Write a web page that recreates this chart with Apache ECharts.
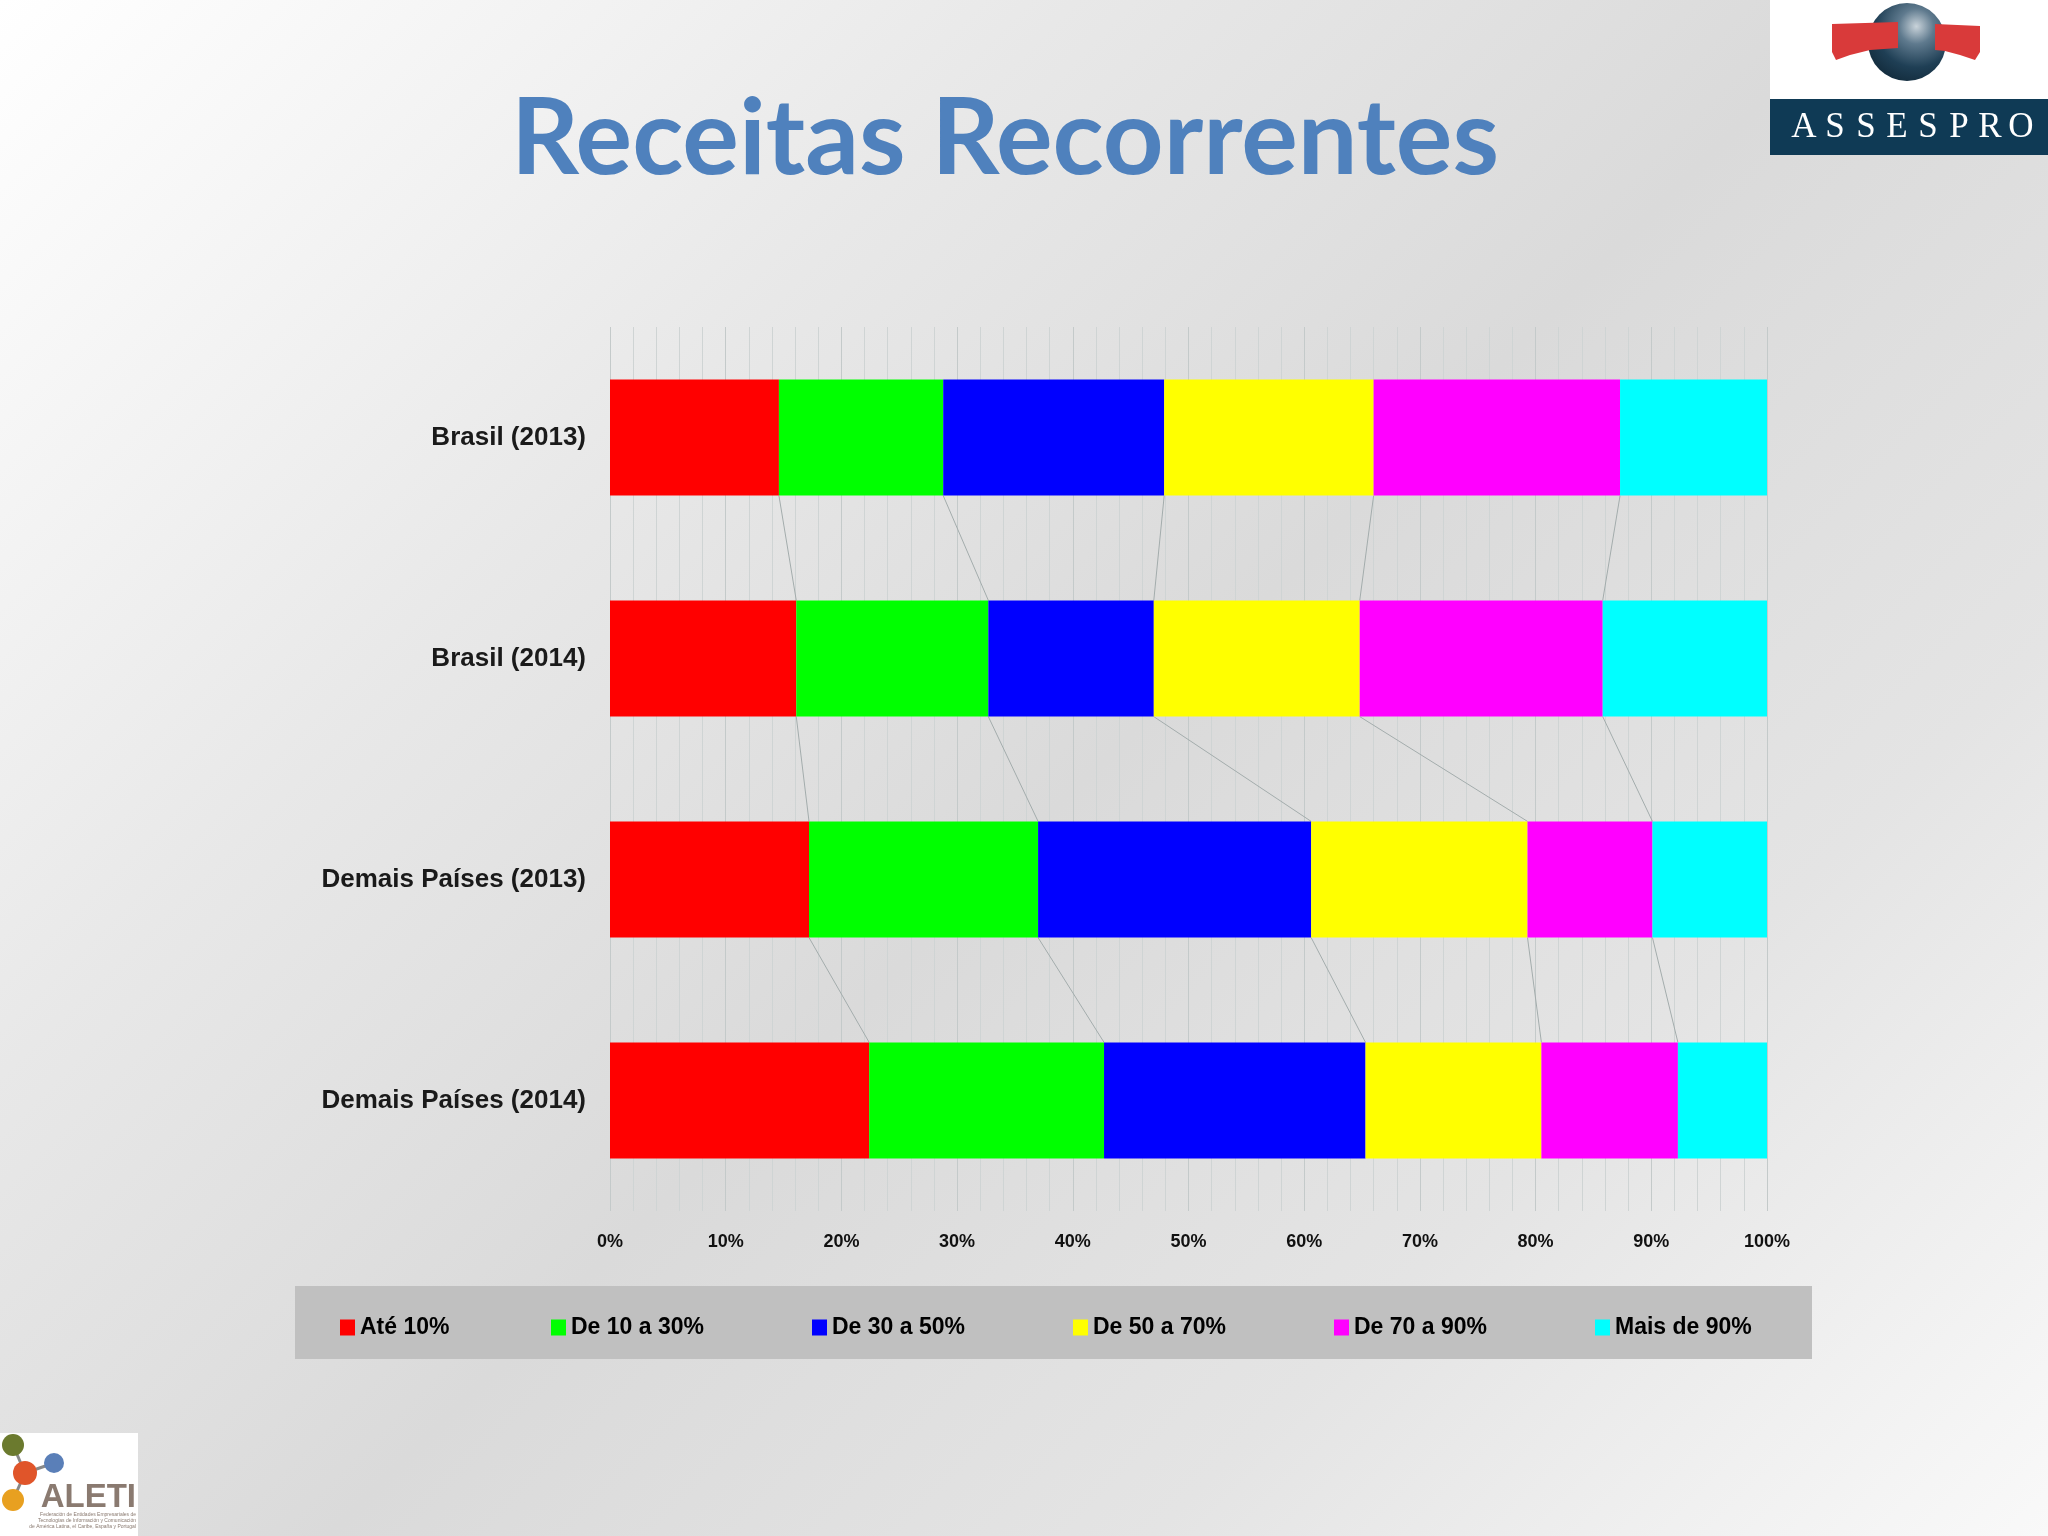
<!DOCTYPE html>
<html><head><meta charset="utf-8">
<script src="https://cdn.jsdelivr.net/npm/echarts@6/dist/echarts.min.js"></script>
<style>
html,body{margin:0;padding:0;}
#c{width:2048px;height:1536px;background:linear-gradient(135deg,#ffffff 0%,#e8e8e8 30%,#dadada 52%,#e4e4e4 75%,#f9f9f9 100%);}
</style></head>
<body><div id="c"></div>
<script>
const categories = ['Brasil (2013)', 'Brasil (2014)', 'Demais Países (2013)', 'Demais Países (2014)'];
const seriesNames = ['Até 10%', 'De 10 a 30%', 'De 30 a 50%', 'De 50 a 70%', 'De 70 a 90%', 'Mais de 90%'];
const ate10   = [14.6, 16.1, 17.2, 22.4];
const de10a30 = [14.2, 16.6, 19.8, 20.3];
const de30a50 = [19.1, 14.3, 23.6, 22.6];
const de50a70 = [18.1, 17.8, 18.7, 15.2];
const de70a90 = [21.3, 21.0, 10.8, 11.8];
const mais90  = [12.7, 14.2, 9.9, 7.7];
const xTicks = [0, 10, 20, 30, 40, 50, 60, 70, 80, 90, 100];

const seriesValues = [ate10, de10a30, de30a50, de50a70, de70a90, mais90];
const colors = ['#ff0000', '#00ff00', '#0000ff', '#ffff00', '#ff00ff', '#00ffff'];
const barFrac = 0.526;
const legendLeft = [340, 551, 812, 1073, 1334, 1595];

function cumAt(cat, k) {
  let s = 0;
  for (let j = 0; j <= k; j++) s += seriesValues[j][cat];
  return s;
}

const chart = echarts.init(document.getElementById('c'), null, {renderer: 'canvas'});

const barSeries = seriesNames.map((n, i) => ({
  name: n, type: 'bar', stack: 'total', barWidth: (barFrac * 100) + '%',
  data: seriesValues[i], itemStyle: {color: colors[i]}, z: 3,
  emphasis: {disabled: true}
}));

const linkSeries = {
  type: 'custom', silent: true, z: 2,
  encode: {x: 0, y: 1},
  data: categories.slice(0, -1).map((c, i) => [0, i]),
  renderItem: function (params, api) {
    const i = api.value(1);
    const half = api.size([0, 1])[1] * barFrac / 2;
    const children = [];
    for (let k = 0; k < seriesNames.length - 1; k++) {
      const a = api.coord([cumAt(i, k), i]);
      const b = api.coord([cumAt(i + 1, k), i + 1]);
      children.push({
        type: 'line',
        shape: {x1: a[0], y1: a[1] + half, x2: b[0], y2: b[1] - half},
        style: {stroke: '#a3acac', lineWidth: 1}
      });
    }
    return {type: 'group', children: children};
  }
};

const lg = seriesNames.map((n, i) => ({
  data: [n], left: legendLeft[i], top: 1316, z: 10, padding: 0,
  icon: 'rect', itemWidth: 15, itemHeight: 16, itemGap: 0,
  selectedMode: false,
  textStyle: {fontFamily: 'Liberation Sans', fontWeight: 'bold', fontSize: 23, color: '#000'}
}));

const globeGrad = new echarts.graphic.RadialGradient(0.62, 0.3, 0.75, [
  {offset: 0, color: '#c9d3da'}, {offset: 0.3, color: '#5f7a8e'}, {offset: 0.7, color: '#1f3f55'}, {offset: 1, color: '#132c3d'}
]);

chart.setOption({
  backgroundColor: 'transparent',
  animation: false,
  grid: {left: 610, right: 281, top: 327, bottom: 325},
  xAxis: {
    type: 'value', min: xTicks[0], max: xTicks[xTicks.length - 1], interval: xTicks[1] - xTicks[0],
    axisLine: {show: false}, axisTick: {show: false},
    axisLabel: {formatter: '{value}%', fontFamily: 'Liberation Sans', fontWeight: 'bold', fontSize: 18, color: '#111', margin: 22},
    splitLine: {show: true, lineStyle: {color: '#c4caca', width: 1}},
    minorTick: {show: false, splitNumber: 5},
    minorSplitLine: {show: true, lineStyle: {color: '#cfd4d4', width: 1}}
  },
  yAxis: {
    type: 'category', data: categories, inverse: true,
    axisLine: {show: false}, axisTick: {show: false},
    axisLabel: {fontFamily: 'Liberation Sans', fontWeight: 'bold', fontSize: 26, color: '#1a1a1a', margin: 24, padding: [8, 0, 0, 0]}
  },
  legend: lg,
  series: barSeries.concat([linkSeries]),
  graphic: [
    {type: 'rect', z: 0, shape: {x: 295, y: 1286, width: 1517, height: 73}, style: {fill: '#c0c0c0'}},
    {type: 'text', z: 5, style: {x: 1005, y: 140, text: 'Receitas Recorrentes', align: 'center', verticalAlign: 'middle',
      font: 'bold 106px Lato', fill: '#4f81bd'}},
    // ASSESPRO logo
    {type: 'rect', z: 5, shape: {x: 1770, y: 0, width: 278, height: 99}, style: {fill: '#ffffff'}},
    {type: 'rect', z: 5, shape: {x: 1770, y: 99, width: 278, height: 56}, style: {fill: '#0f3a55'}},
    {type: 'circle', z: 6, shape: {cx: 1907, cy: 42, r: 39}, style: {fill: globeGrad}},
    {type: 'polygon', z: 7, shape: {points: [[1832, 24], [1898, 22], [1898, 48], [1870, 50], [1850, 55], [1836, 60], [1832, 52]]},
      style: {fill: '#d93a3a'}},
    {type: 'polygon', z: 7, shape: {points: [[1935, 24], [1980, 26], [1980, 52], [1975, 60], [1960, 55], [1945, 51], [1935, 50]]},
      style: {fill: '#d93a3a'}}
  ].concat('ASSESPRO'.split('').map((ch, i) => ({
      type: 'text', z: 8, style: {x: 1804 + i * 31, y: 128, text: ch, align: 'center', verticalAlign: 'middle',
        font: '35px "Liberation Serif"', fill: '#ffffff'}
  }))).concat([
    // ALETI logo
    {type: 'rect', z: 5, shape: {x: 0, y: 1433, width: 138, height: 103}, style: {fill: '#ffffff'}},
    {type: 'line', z: 6, shape: {x1: 13, y1: 1445, x2: 25, y2: 1473}, style: {stroke: '#888', lineWidth: 3}},
    {type: 'line', z: 6, shape: {x1: 54, y1: 1463, x2: 25, y2: 1473}, style: {stroke: '#888', lineWidth: 3}},
    {type: 'line', z: 6, shape: {x1: 13, y1: 1500, x2: 25, y2: 1473}, style: {stroke: '#888', lineWidth: 3}},
    {type: 'circle', z: 7, shape: {cx: 13, cy: 1445, r: 11}, style: {fill: '#6b7a2e'}},
    {type: 'circle', z: 7, shape: {cx: 54, cy: 1463, r: 10}, style: {fill: '#5a7fb8'}},
    {type: 'circle', z: 7, shape: {cx: 25, cy: 1473, r: 12}, style: {fill: '#e0552a'}},
    {type: 'circle', z: 7, shape: {cx: 13, cy: 1500, r: 11}, style: {fill: '#e8a020'}},
    {type: 'text', z: 7, style: {x: 136, y: 1498, text: 'ALETI', align: 'right', verticalAlign: 'middle',
      font: 'bold 33px "Liberation Sans"', fill: '#8a7a70'}},
    {type: 'text', z: 7, style: {x: 136, y: 1515, text: 'Federación de Entidades Empresariales de', align: 'right', verticalAlign: 'middle', font: '5px "Liberation Sans"', fill: '#8a7a70'}},
    {type: 'text', z: 7, style: {x: 136, y: 1521, text: 'Tecnologías de Información y Comunicación', align: 'right', verticalAlign: 'middle', font: '5px "Liberation Sans"', fill: '#8a7a70'}},
    {type: 'text', z: 7, style: {x: 136, y: 1527, text: 'de América Latina, el Caribe, España y Portugal', align: 'right', verticalAlign: 'middle', font: '5px "Liberation Sans"', fill: '#8a7a70'}}
  ])
});
</script>
</body></html>
